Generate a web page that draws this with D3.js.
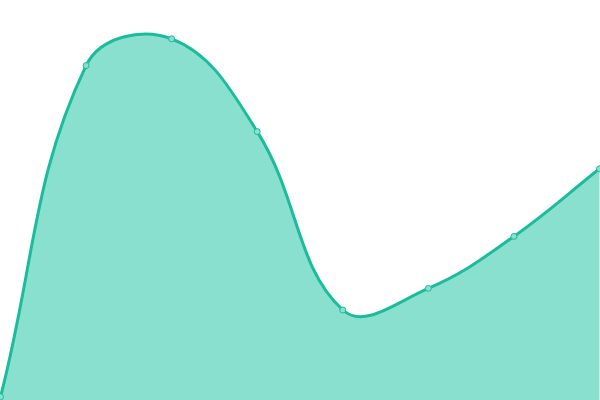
<!DOCTYPE html>
<html>
<head>
<meta charset="utf-8">
<script src="https://cdn.jsdelivr.net/npm/d3@7"></script>
<style>
  html, body { margin: 0; padding: 0; background: #fff; overflow: hidden; }
  svg { display: block; }
</style>
</head>
<body>
<script>
// values
var categories = ["A", "B", "C", "D", "E", "F", "G", "H"];
var values = [0.8, 83.6, 90.3, 67.1, 22.5, 27.9, 40.9, 57.8];

var width = 600, height = 400;
var tension = 0.4;

var svg = d3.select("body").append("svg")
	.attr("width", width)
	.attr("height", height);

var x = d3.scalePoint().domain(categories).range([0.5, 599.5]);
var y = d3.scaleLinear().domain([0, 100]).range([400, 0]);

var pts = values.map(function(d, i) { return [x(categories[i]), y(d)]; });

// length weighted spline control points
function controlPoints(p) {
	var cps = [];
	for (var i = 0; i < p.length; i++) {
		var prev = p[i - 1] || p[i], cur = p[i], next = p[i + 1] || p[i];
		var d01 = Math.hypot(cur[0] - prev[0], cur[1] - prev[1]);
		var d12 = Math.hypot(next[0] - cur[0], next[1] - cur[1]);
		var s01 = d01 / (d01 + d12), s12 = d12 / (d01 + d12);
		var fa = tension * s01, fb = tension * s12;
		var clampX = function(v) { return Math.max(0, Math.min(width, v)); };
		var clampY = function(v) { return Math.max(0, Math.min(height, v)); };
		cps.push({
			prev: [clampX(cur[0] - fa * (next[0] - prev[0])), clampY(cur[1] - fa * (next[1] - prev[1]))],
			next: [clampX(cur[0] + fb * (next[0] - prev[0])), clampY(cur[1] + fb * (next[1] - prev[1]))]
		});
	}
	return cps;
}

var cps = controlPoints(pts);

function curvePath(ctx) {
	ctx.moveTo(pts[0][0], pts[0][1]);
	for (var i = 1; i < pts.length; i++) {
		ctx.bezierCurveTo(cps[i - 1].next[0], cps[i - 1].next[1], cps[i].prev[0], cps[i].prev[1], pts[i][0], pts[i][1]);
	}
	return ctx;
}

var linePath = curvePath(d3.path());
var areaPath = curvePath(d3.path());
areaPath.lineTo(pts[pts.length - 1][0], height);
areaPath.lineTo(pts[0][0], height);
areaPath.closePath();

svg.append("path")
	.attr("d", areaPath.toString())
	.attr("fill", "#8ae0cf");

svg.append("path")
	.attr("d", linePath.toString())
	.attr("fill", "none")
	.attr("stroke", "#1abc9c")
	.attr("stroke-width", 3);

svg.selectAll("circle")
	.data(pts)
	.enter().append("circle")
	.attr("cx", function(d) { return d[0]; })
	.attr("cy", function(d) { return d[1]; })
	.attr("r", 3)
	.attr("fill", "#8ae0cf")
	.attr("stroke", "#1abc9c")
	.attr("stroke-width", 1);
</script>
</body>
</html>
